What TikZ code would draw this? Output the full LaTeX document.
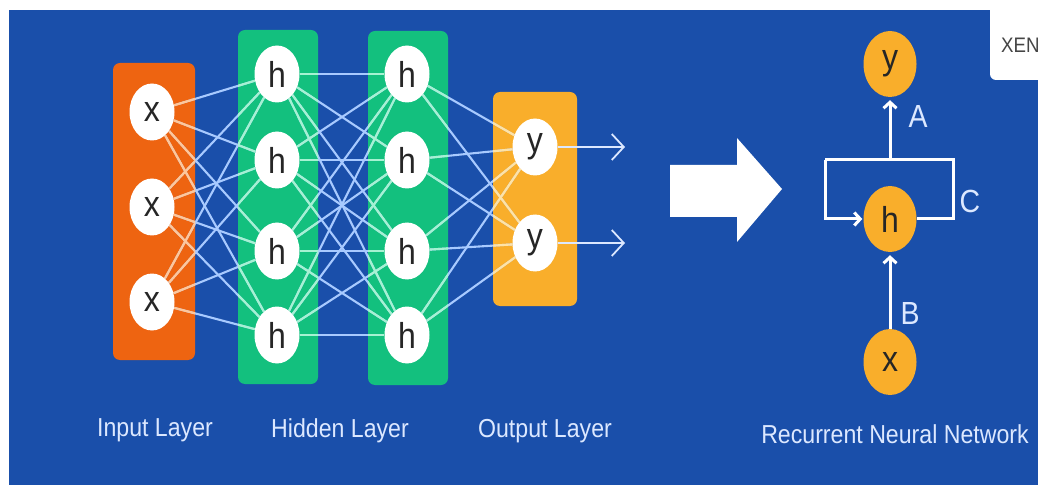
\documentclass[tikz,border=0pt]{standalone}
\usepackage{fontspec}
\setmainfont{Liberation Sans}
\newfontfamily\narrowfont[FakeStretch=0.89]{Liberation Sans}
\usetikzlibrary{shapes.geometric,arrows.meta}
\definecolor{bgblue}{HTML}{1A4FAA}
\definecolor{inorange}{HTML}{EE6411}
\definecolor{hidgreen}{HTML}{13C07E}
\definecolor{outyellow}{HTML}{F9AE2B}
\definecolor{wireblue}{HTML}{A8CAFF}
\definecolor{wiremint}{HTML}{A6F2D2}
\definecolor{wirepeach}{HTML}{FFC79A}
\definecolor{wireyellow}{HTML}{FFE3A6}
\definecolor{labelcol}{HTML}{DCE8FF}
\definecolor{letter}{HTML}{262626}
\definecolor{xengray}{HTML}{454545}
\pgfdeclarelayer{bg}
\pgfdeclarelayer{wires}
\pgfsetlayers{bg,wires,main}
\newcommand\netwires[1]{%
  \foreach \i in {1,2,3}{\foreach \j in {1,...,4}{\draw[wire,#1] (x\i) -- (ha\j);}}%
  \foreach \i in {1,...,4}{\foreach \j in {1,...,4}{\draw[wire,#1] (ha\i) -- (hb\j);}}%
  \foreach \i in {1,...,4}{\foreach \j in {1,2}{\draw[wire,#1] (hb\i) -- (y\j);}}%
}
\begin{document}
\begin{tikzpicture}[x=1pt,y=-1pt,
  neuron/.style={ellipse, fill=white, minimum width=45pt, minimum height=57pt, inner sep=0pt, text=letter, font=\narrowfont\fontsize{36}{36}\selectfont},
  rnode/.style={ellipse, fill=outyellow, minimum width=53pt, minimum height=66pt, inner sep=0pt, text=letter, font=\narrowfont\fontsize{36}{36}\selectfont},
  layerbox/.style={rounded corners=7pt},
  wire/.style={line width=2.1pt},
  caption/.style={text=labelcol, font=\narrowfont\fontsize{26}{26}\selectfont, anchor=base, inner sep=0pt},
  rlabel/.style={text=labelcol, font=\narrowfont\fontsize{32}{32}\selectfont, inner sep=0pt},
  outarrow/.style={draw=labelcol, line width=1.8pt, -{Straight Barb[length=12pt,width=26pt]}},
  rnnline/.style={draw=white, line width=3pt},
  rnnarrow/.style={rnnline, -{Straight Barb[length=6pt,width=13pt]}},
]
\useasboundingbox (0,0) rectangle (1038,486);
\begin{pgfonlayer}{bg}
  \fill[white] (0,0) rectangle (1038,486);
  \fill[bgblue] (9,10) rectangle (1038,485);
  \fill[inorange, layerbox] (113,63) rectangle (195,360);
  \fill[hidgreen, layerbox] (238,30) rectangle (318,384);
  \fill[hidgreen, layerbox] (368,31) rectangle (448,385);
  \fill[outyellow, layerbox] (493,92) rectangle (577,306);
  % big arrow
  \fill[white] (670,165) -- (737,165) -- (737,138) -- (782,189) -- (737,242) -- (737,217) -- (670,217) -- cycle;
  % logo box
  \fill[white] (1038,10) -- (990,10) [rounded corners=6pt] -- (990,80) [sharp corners] -- (1038,80) -- cycle;
\end{pgfonlayer}

% neurons
\node[neuron] (x1) at (152,112) {x};
\node[neuron] (x2) at (152,207) {x};
\node[neuron] (x3) at (152,302) {x};
\node[neuron] (ha1) at (277,74) {h};
\node[neuron] (ha2) at (277,160) {h};
\node[neuron] (ha3) at (277,251) {h};
\node[neuron] (ha4) at (277,335) {h};
\node[neuron] (hb1) at (407,74) {h};
\node[neuron] (hb2) at (407,160) {h};
\node[neuron] (hb3) at (407,251) {h};
\node[neuron] (hb4) at (407,335) {h};
\node[neuron] (y1) at (535,147) {y};
\node[neuron] (y2) at (535,243) {y};

\begin{pgfonlayer}{wires}
  \netwires{wireblue}
  \begin{scope}
    \clip (113,63) rectangle (195,360);
    \netwires{wirepeach}
  \end{scope}
  \begin{scope}
    \clip (238,30) rectangle (318,384) (368,31) rectangle (448,385);
    \netwires{wiremint}
  \end{scope}
  \begin{scope}
    \clip (493,92) rectangle (577,306);
    \netwires{wireyellow}
  \end{scope}
\end{pgfonlayer}

% output arrows
\coordinate (o1) at (625,147);
\coordinate (o2) at (625,243);
\draw[outarrow] (y1) -- (o1);
\draw[outarrow] (y2) -- (o2);

% captions
\node[caption] (cin) at (155,436) {Input Layer};
\node[caption] (chid) at (340,437) {Hidden Layer};
\node[caption] (cout) at (545,437) {Output Layer};
\node[caption] (crnn) at (895,443) {Recurrent Neural Network};

% RNN
\node[rnode] (ry) at (890,64) {y};
\node[rnode] (rh) at (890,219) {h};
\node[rnode] (rx) at (890,362) {x};
\coordinate (lr) at (953,160);
\coordinate (ll) at (825,160);
\draw[rnnline] (rh.east) -| (lr) -- (ll);
\draw[rnnarrow, shorten >=1pt] (ll) |- (rh.west);
\draw[rnnarrow, shorten >=3pt] (ry.south |- ll) -- (ry.south);
\draw[rnnarrow, shorten >=3pt] (rx.north) -- (rh.south);
\node[rlabel] (la) at (918,116) {A};
\node[rlabel] (lc) at (970,201) {C};
\node[rlabel] (lb) at (910,313) {B};

% logo text
\node[anchor=west, inner sep=0pt, text=xengray, font=\narrowfont\fontsize{21}{21}\selectfont] (xen) at (1001,45) {XEN};
\end{tikzpicture}
\end{document}
